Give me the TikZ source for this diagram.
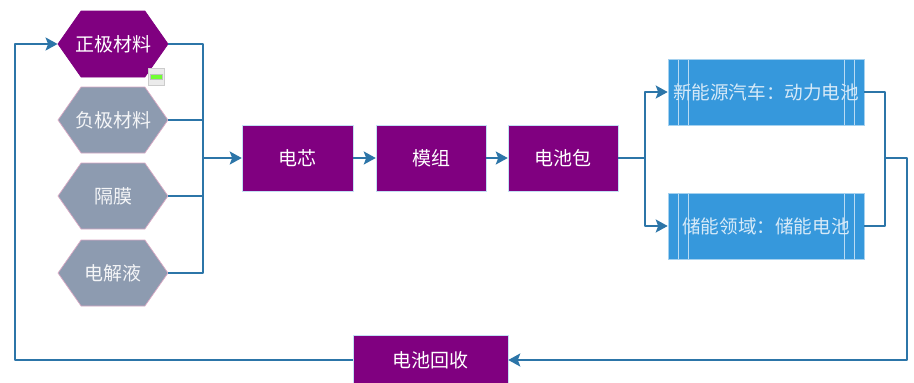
\documentclass[tikz,border=0pt]{standalone}
\usepackage{fontspec}
\setmainfont{Noto Sans CJK SC}
\usetikzlibrary{arrows.meta,shapes.symbols,calc}
\definecolor{plum}{HTML}{800080}
\definecolor{slate}{HTML}{8D9BB0}
\definecolor{skyb}{HTML}{3698DC}
\definecolor{wire}{HTML}{2C75A8}
\definecolor{hexedge}{HTML}{D9A9C4}
\newcommand{\hexlabel}[1]{\makebox[0pt][c]{#1}}
\tikzset{
 x=1pt,y=-1pt,
 hexa/.style={shape=signal,signal to=east and west,signal pointer angle=110,minimum width=110pt,minimum height=66pt,inner sep=0pt,font=\fontsize{19}{22}\selectfont,text=white,line width=.7pt},
 hexon/.style={hexa,fill=plum,draw=plum},
 hexoff/.style={hexa,fill=slate,draw=hexedge,text=white!90!slate},
 block/.style={rectangle,fill=plum,draw=skyb!30!white,line width=.5pt,text=white,minimum height=66pt,inner sep=0pt,font=\fontsize{19}{22}\selectfont},
 usebox/.style={rectangle,fill=skyb,draw=skyb!45!white,line width=.6pt,text=white!80!skyb,minimum width=196pt,minimum height=66pt,inner sep=0pt,font=\fontsize{18.6}{22}\selectfont,
  path picture={\draw[white!65!skyb,line width=.7pt]
   ([xshift=10pt]path picture bounding box.north west)--([xshift=10pt]path picture bounding box.south west)
   ([xshift=20pt]path picture bounding box.north west)--([xshift=20pt]path picture bounding box.south west)
   ([xshift=-10pt]path picture bounding box.north east)--([xshift=-10pt]path picture bounding box.south east)
   ([xshift=-20pt]path picture bounding box.north east)--([xshift=-20pt]path picture bounding box.south east);}},
 wireline/.style={draw=wire,line width=2pt,line join=round},
 wirearrow/.style={wireline,-{Stealth[length=12pt,width=13pt,inset=2.5pt]}},
}
\begin{document}
\begin{tikzpicture}
\useasboundingbox (0,0) rectangle (914,383);
\clip (0,0) rectangle (914,383);
\fill[white] (0,0) rectangle (914,383);
\node[hexon]  (zj) at (113,44)  {\hexlabel{正极材料}};
\node[hexoff] (fj) at (113,120) {\hexlabel{负极材料}};
\node[hexoff] (gm) at (113,196) {\hexlabel{隔膜}};
\node[hexoff] (dj) at (113,273) {\hexlabel{电解液}};
\node[block,minimum width=111pt] (dx) at (297.5,158) {电芯};
\node[block,minimum width=110pt] (mz) at (431,158) {模组};
\node[block,minimum width=110pt] (dc) at (563,158) {电池包};
\node[usebox] (xn) at (766,92)  {新能源汽车：动力电池};
\node[usebox] (cn) at (766,226) {储能领域：储能电池};
\node[block,minimum width=155pt,minimum height=57pt] (hs) at (430.5,363.5) {};
\node[text=white,font=\fontsize{19}{22}\selectfont] (hst) at (430.5,360) {电池回收};
% small status icon
\node[rectangle,fill=black!8,draw=black!20,line width=.5pt,minimum width=16pt,minimum height=17pt,inner sep=0pt] (ic) at (156.5,77) {};
\node[rectangle,fill=green!70!yellow!80!white,draw=black!25,line width=.3pt,minimum width=12pt,minimum height=5pt,inner sep=0pt] (ig) at (ic.center) {};
% inputs to bus
\coordinate (b1) at (203,44);
\coordinate (b4) at (203,273);
\coordinate (bm) at (203,158);
\draw[wireline] (zj.east) -- (b1) -- (b4) -- (dj.east);
\draw[wireline] (fj.east) -- (fj.east -| b1);
\draw[wireline] (gm.east) -- (gm.east -| b1);
\draw[wirearrow] (bm) -- (dx.west);
\draw[wirearrow] (dx.east) -- (mz.west);
\draw[wirearrow] (mz.east) -- (dc.west);
% split to uses
\coordinate (s) at (645,158);
\draw[wireline] (dc.east) -- (s);
\draw[wirearrow] (s) |- (xn.west);
\draw[wirearrow] (s) |- (cn.west);
% merge
\coordinate (m) at (885,158);
\coordinate (r) at (907,158);
\draw[wireline] (xn.east) -| (m);
\draw[wireline] (cn.east) -| (m);
\draw[wirearrow] (m) -- (r) -- (907,360) -- (hs.east |- hst);
% return
\coordinate (l) at (15,360);
\draw[wirearrow] (hs.west |- hst) -- (l) |- (zj.west);
\end{tikzpicture}
\end{document}
